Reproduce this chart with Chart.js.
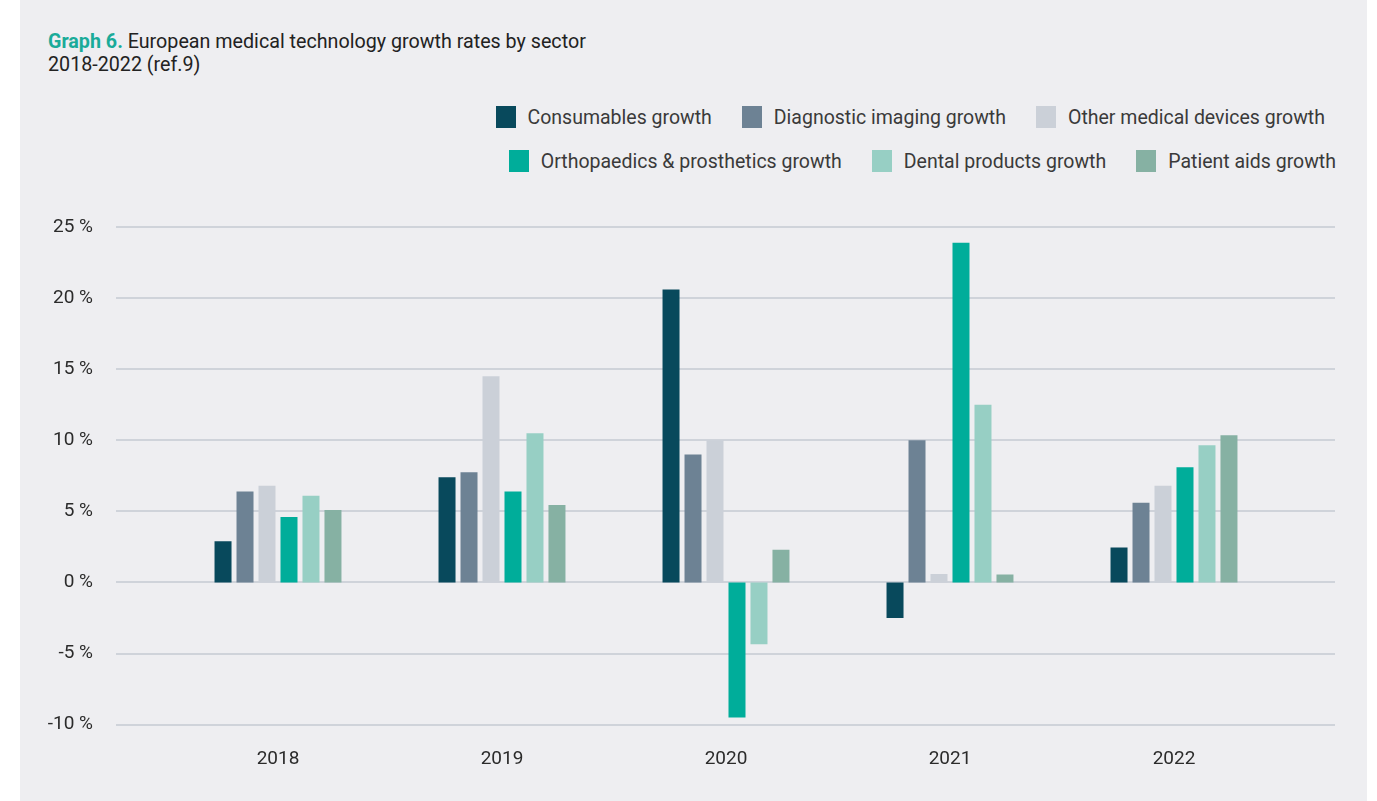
<!DOCTYPE html>
<html>
<head>
<meta charset="utf-8">
<script src="https://cdn.jsdelivr.net/npm/chart.js@4.4.1/dist/chart.umd.min.js"></script>
<style>
  html, body { margin: 0; padding: 0; background: #fff; }
  body { width: 1377px; height: 801px; position: relative; overflow: hidden; font-family: Roboto, sans-serif; }
  #panel { position: absolute; left: 20px; top: 0; width: 1347px; height: 801px; background: #eeeef1; }
  #title { position: absolute; left: 48px; top: 30px; font-size: 19.7px; line-height: 23px; color: #222; }
  #title b { color: #1aab99; font-weight: 700; }
  #legend { position: absolute; top: 0; left: 0; width: 1377px; }
  .lg-row { position: absolute; display: flex; align-items: center; height: 24px; }
  .lg-item { display: flex; align-items: center; margin-left: 30px; font-size: 19.5px; color: #3a3a3a; white-space: nowrap; }
  .lg-item:first-child { margin-left: 0; }
  .lg-box { width: 20px; height: 22px; margin-right: 12px; }
  #wrap { position: absolute; left: 0; top: 0; width: 1377px; height: 801px; }
</style>
</head>
<body>
<div id="panel"></div>
<div id="title"><b>Graph 6.</b> European medical technology growth rates by sector<br>2018-2022 (ref.9)</div>
<div id="legend"></div>
<div id="wrap"><canvas id="chart"></canvas></div>
<script>
// growth per sector, in percent
const years = ['2018', '2019', '2020', '2021', '2022'];
const consumables = [2.9, 7.4, 20.6, -2.5, 2.45];
const diagnosticImaging = [6.4, 7.75, 9.0, 10.0, 5.6];
const otherDevices = [6.8, 14.5, 10.0, 0.6, 6.8];
const orthopaedics = [4.6, 6.4, -9.5, 23.9, 8.1];
const dental = [6.1, 10.5, -4.35, 12.5, 9.65];
const patientAids = [5.1, 5.45, 2.3, 0.55, 10.35];
const yTicks = [-10, -5, 0, 5, 10, 15, 20, 25];

const series = [
    { label: 'Consumables growth', data: consumables, color: '#08495c' },
    { label: 'Diagnostic imaging growth', data: diagnosticImaging, color: '#6d8294' },
    { label: 'Other medical devices growth', data: otherDevices, color: '#cbd0d8' },
    { label: 'Orthopaedics & prosthetics growth', data: orthopaedics, color: '#00ad9a' },
    { label: 'Dental products growth', data: dental, color: '#97cfc4' },
    { label: 'Patient aids growth', data: patientAids, color: '#86b1a3' },
];

// horizontal grid lines run a bit past the plot on both sides
const wideGrid = {
    id: 'wideGrid',
    beforeDatasetsDraw(chart) {
        const { ctx, chartArea, scales: { y } } = chart;
        ctx.save();
        ctx.strokeStyle = '#cfd3da';
        ctx.lineWidth = 2;
        y.ticks.forEach(t => {
            const py = Math.round(y.getPixelForValue(t.value));
            ctx.beginPath();
            ctx.moveTo(chartArea.left - 50, py);
            ctx.lineTo(chartArea.right + 49, py);
            ctx.stroke();
        });
        ctx.restore();
    }
};

// two right-aligned legend rows built from the datasets
const htmlLegend = {
    id: 'htmlLegend',
    afterUpdate(chart) {
        const box = document.getElementById('legend');
        box.innerHTML = '';
        const rows = [
            { items: [0, 1, 2], right: 52, top: 105 },
            { items: [3, 4, 5], right: 41, top: 149 },
        ];
        rows.forEach(r => {
            const row = document.createElement('div');
            row.className = 'lg-row';
            row.style.right = r.right + 'px';
            row.style.top = r.top + 'px';
            r.items.forEach(i => {
                const ds = chart.data.datasets[i];
                const item = document.createElement('div');
                item.className = 'lg-item';
                item.innerHTML = `<span class="lg-box" style="background:${ds.backgroundColor}"></span>${ds.label}`;
                row.appendChild(item);
            });
            box.appendChild(row);
        });
    }
};

const tickFont = { family: 'Roboto', size: 19 };

new Chart(document.getElementById('chart'), {
    type: 'bar',
    data: {
        labels: years,
        datasets: series.map(s => ({
            label: s.label,
            data: s.data,
            backgroundColor: s.color,
            borderWidth: 0,
            categoryPercentage: 0.589,
            barPercentage: 0.773
        }))
    },
    options: {
        responsive: true,
        maintainAspectRatio: false,
        animation: false,
        layout: { padding: { left: 0, right: 91, top: 227, bottom: 0 } },
        plugins: {
            legend: { display: false },
            tooltip: { enabled: false }
        },
        scales: {
            x: {
                grid: { display: false },
                border: { display: false },
                ticks: { font: tickFont, color: '#2b2b2b', padding: 15 },
                afterFit(scale) { scale.height = 74; }
            },
            y: {
                min: -10,
                max: 25,
                afterBuildTicks(scale) { scale.ticks = yTicks.map(v => ({ value: v })); },
                grid: { display: false },
                border: { display: false },
                ticks: {
                    font: tickFont,
                    color: '#2b2b2b',
                    padding: 65,
                    callback: v => v + ' %'
                },
                afterFit(scale) { scale.width = 166; }
            }
        }
    },
    plugins: [wideGrid, htmlLegend]
});
</script>
</body>
</html>
